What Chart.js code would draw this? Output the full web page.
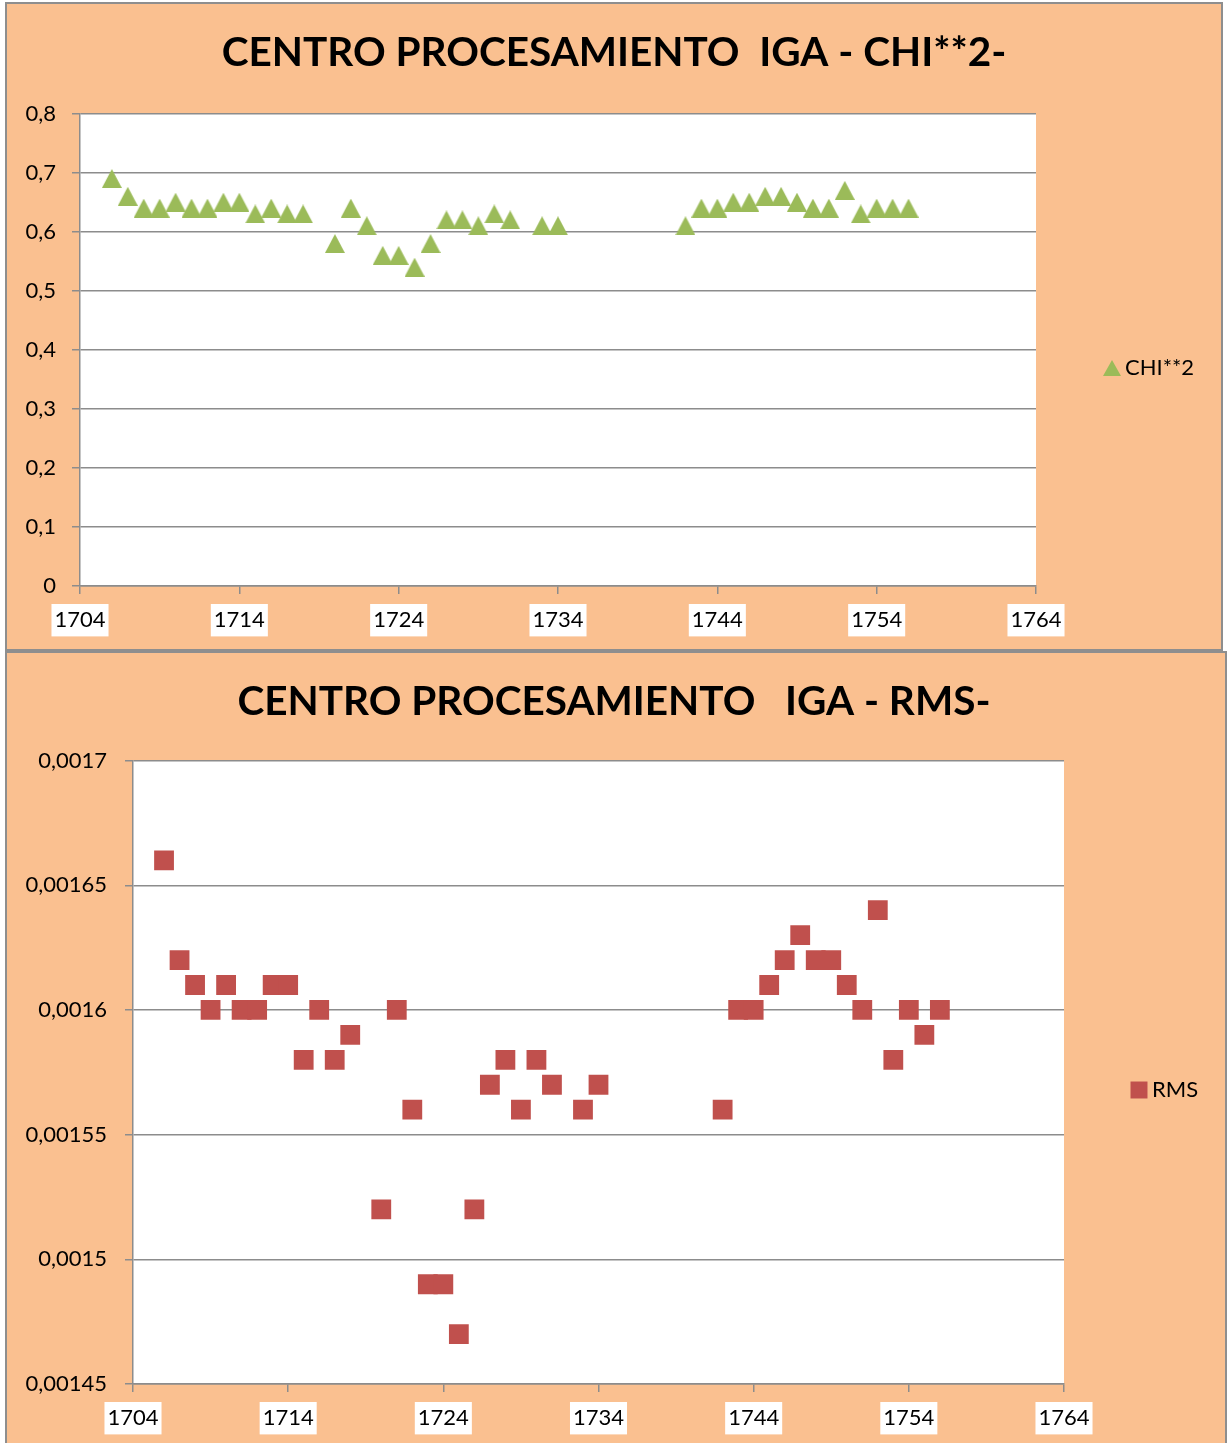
<!DOCTYPE html>
<html>
<head>
<meta charset="utf-8">
<script src="https://cdn.jsdelivr.net/npm/chart.js@4.4.0/dist/chart.umd.min.js"></script>
<style>
  body { margin: 0; background: #fff; width: 1228px; height: 1443px; overflow: hidden; position: relative; }
  .box { position: absolute; background: #fac090; border: 2px solid #8e8e8e; box-sizing: border-box; }
  canvas { position: absolute; left: 0; }
</style>
</head>
<body>
<div class="box" style="left:5px;top:2px;width:1218px;height:649px"></div>
<div class="box" style="left:5px;top:651px;width:1222px;height:800px"></div>
<canvas id="chiChart" width="1228" height="651" style="top:0;width:1228px;height:651px"></canvas>
<canvas id="rmsChart" width="1228" height="792" style="top:651px;width:1228px;height:792px"></canvas>
<script>
// Data
const years = [1706, 1707, 1708, 1709, 1710, 1711, 1712, 1713, 1714, 1715, 1716, 1717, 1718,
  1720, 1721, 1722, 1723, 1724, 1725, 1726, 1727, 1728, 1729, 1730, 1731, 1733, 1734,
  1742, 1743, 1744, 1745, 1746, 1747, 1748, 1749, 1750, 1751, 1752, 1753, 1754, 1755, 1756];
const chiValues = [0.69, 0.66, 0.64, 0.64, 0.65, 0.64, 0.64, 0.65, 0.65, 0.63, 0.64, 0.63, 0.63,
  0.58, 0.64, 0.61, 0.56, 0.56, 0.54, 0.58, 0.62, 0.62, 0.61, 0.63, 0.62, 0.61, 0.61,
  0.61, 0.64, 0.64, 0.65, 0.65, 0.66, 0.66, 0.65, 0.64, 0.64, 0.67, 0.63, 0.64, 0.64, 0.64];
const rmsValues = [0.00166, 0.00162, 0.00161, 0.0016, 0.00161, 0.0016, 0.0016, 0.00161, 0.00161, 0.00158, 0.0016, 0.00158, 0.00159,
  0.00152, 0.0016, 0.00156, 0.00149, 0.00149, 0.00147, 0.00152, 0.00157, 0.00158, 0.00156, 0.00158, 0.00157, 0.00156, 0.00157,
  0.00156, 0.0016, 0.0016, 0.00161, 0.00162, 0.00163, 0.00162, 0.00162, 0.00161, 0.0016, 0.00164, 0.00158, 0.0016, 0.00159, 0.0016];

const xTicks = [1704, 1714, 1724, 1734, 1744, 1754, 1764];
const xTickLabels = ["1704", "1714", "1724", "1734", "1744", "1754", "1764"];
const chiYTicks = [0, 0.1, 0.2, 0.3, 0.4, 0.5, 0.6, 0.7, 0.8];
const chiYLabels = ["0", "0,1", "0,2", "0,3", "0,4", "0,5", "0,6", "0,7", "0,8"];
const rmsYTicks = [0.00145, 0.0015, 0.00155, 0.0016, 0.00165, 0.0017];
const rmsYLabels = ["0,00145", "0,0015", "0,00155", "0,0016", "0,00165", "0,0017"];

const gridGray = "#8c8c8c";
const font = "Lato";

// Excel-like triangle marker (box centred on the point)
function triangleImage(w, h, color) {
  const c = document.createElement("canvas");
  c.width = w;
  c.height = h;
  const g = c.getContext("2d");
  g.fillStyle = color;
  g.beginPath();
  g.moveTo(w / 2, 0);
  g.lineTo(w, h);
  g.lineTo(0, h);
  g.closePath();
  g.fill();
  return c;
}

// white plot area
const plotBg = {
  id: "plotBg",
  beforeDraw(chart) {
    const a = chart.chartArea;
    chart.ctx.save();
    chart.ctx.fillStyle = "#fff";
    chart.ctx.fillRect(a.left, a.top, a.right - a.left, a.bottom - a.top);
    chart.ctx.restore();
  }
};

// legend on the right, placed like the original
const sideLegend = {
  id: "sideLegend",
  afterDraw(chart, args, o) {
    const ctx = chart.ctx;
    const ds = chart.data.datasets[0];
    ctx.save();
    ctx.fillStyle = ds.backgroundColor;
    Chart.helpers.drawPoint(ctx, { pointStyle: o.marker, radius: o.radius, rotation: 0, borderWidth: 0 }, o.x, o.y);
    ctx.fillStyle = "#000";
    ctx.font = "22px " + font;
    ctx.textBaseline = "middle";
    ctx.textAlign = "left";
    ctx.fillText(ds.label, o.textX, o.y);
    ctx.restore();
  }
};

function makeChart(id, cfg) {
  return new Chart(document.getElementById(id), {
    type: "scatter",
    data: {
      datasets: [{
        label: cfg.label,
        data: years.map((y, i) => ({ x: y, y: cfg.values[i] })),
        pointStyle: cfg.pointStyle,
        pointRadius: cfg.radius,
        pointHoverRadius: cfg.radius,
        backgroundColor: cfg.color,
        borderColor: cfg.color,
        borderWidth: 0
      }]
    },
    options: {
      responsive: false,
      animation: false,
      layout: { padding: 0 },
      plugins: {
        legend: { display: false },
        tooltip: { enabled: false },
        title: {
          display: true,
          text: cfg.title,
          color: "#000",
          font: { family: font, size: 40.5, weight: "bold" },
          padding: cfg.titlePad
        },
        sideLegend: cfg.legend
      },
      scales: {
        x: {
          type: "linear",
          min: 1704,
          max: 1764,
          afterBuildTicks: s => { s.ticks = xTicks.map(v => ({ value: v })); },
          afterFit: s => { s.height = cfg.xHeight; },
          grid: { drawOnChartArea: false, drawTicks: true, tickLength: 8, color: gridGray, lineWidth: 1.5 },
          border: { display: true, color: gridGray, width: 1.5 },
          ticks: {
            callback: (v, i) => xTickLabels[i],
            color: "#000",
            font: { family: font, size: 22 },
            padding: 13,
            maxRotation: 0,
            autoSkip: false,
            showLabelBackdrop: true,
            backdropColor: "#fff",
            backdropPadding: { x: 3, y: 3 }
          }
        },
        y: {
          min: cfg.yTicks[0],
          max: cfg.yTicks[cfg.yTicks.length - 1],
          afterBuildTicks: s => { s.ticks = cfg.yTicks.map(v => ({ value: v })); },
          afterFit: s => { s.width = cfg.yWidth; },
          grid: { drawTicks: true, tickLength: 8, color: gridGray, lineWidth: 1.5 },
          border: { display: true, color: gridGray, width: 1.5 },
          ticks: {
            callback: (v, i) => cfg.yLabels[i],
            color: "#000",
            font: { family: font, size: 22 },
            padding: cfg.yPad
          }
        },
        // empty right axis keeps room for the legend, title stays centred on the whole box
        yRight: {
          position: "right",
          afterFit: s => { s.width = cfg.rightWidth; },
          grid: { display: false, drawTicks: false },
          border: { display: false },
          ticks: { display: false }
        }
      }
    },
    plugins: [plotBg, sideLegend]
  });
}

makeChart("chiChart", {
  label: "CHI**2",
  values: chiValues,
  pointStyle: triangleImage(20, 19, "#9bbb59"),
  radius: 11,
  color: "#9bbb59",
  title: "CENTRO PROCESAMIENTO  IGA - CHI**2-",
  titlePad: { top: 29, bottom: 36 },
  rightWidth: 192,
  xHeight: 65,
  yWidth: 80,
  yPad: 16,
  yTicks: chiYTicks,
  yLabels: chiYLabels,
  legend: { x: 1112, y: 368, radius: 10, textX: 1125, marker: triangleImage(18, 16, "#9bbb59") }
});

makeChart("rmsChart", {
  label: "RMS",
  values: rmsValues,
  pointStyle: "rect",
  radius: 14,
  color: "#c0504d",
  title: "CENTRO PROCESAMIENTO   IGA - RMS-",
  titlePad: { top: 27, bottom: 34 },
  rightWidth: 164,
  xHeight: 59,
  yWidth: 133,
  yPad: 18,
  yTicks: rmsYTicks,
  yLabels: rmsYLabels,
  legend: { x: 1139, y: 439, radius: 12, textX: 1152, marker: "rect" }
});
</script>
</body>
</html>
